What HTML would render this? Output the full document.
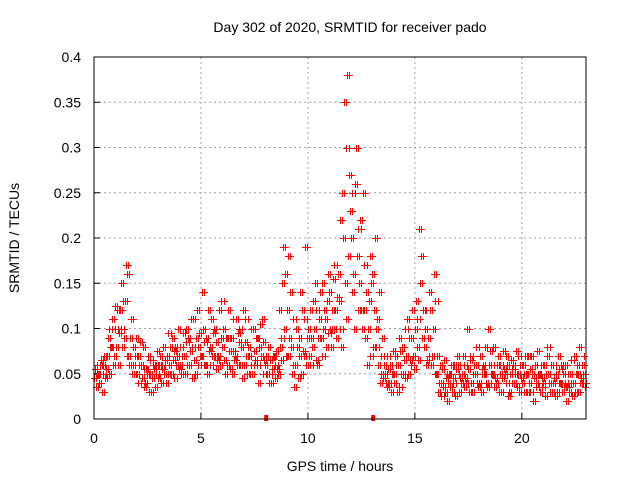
<!DOCTYPE html>
<html><head><meta charset="utf-8"><style>
html,body{margin:0;padding:0;background:#fff;}
svg{display:block;font-family:"Liberation Sans",sans-serif;}
</style></head><body>
<svg id="chart" width="640" height="480" viewBox="0 0 640 480">
<rect width="640" height="480" fill="#fff"/>
<text x="350" y="32" font-size="14" text-anchor="middle">Day 302 of 2020, SRMTID for receiver pado</text>
<text x="340" y="471" font-size="14" text-anchor="middle">GPS time / hours</text>
<text transform="translate(19,238) rotate(-90)" font-size="14" text-anchor="middle">SRMTID / TECUs</text>
<g id="grid"></g><g id="ticks"></g><g id="marks"></g>
<rect x="94" y="57" width="492" height="362" fill="none" stroke="#000" stroke-width="1"/>
</svg>
<script>
const xTicks=[0,5,10,15,20];
const yTicks=[0,0.05,0.1,0.15,0.2,0.25,0.3,0.35,0.4];
const yTickLabels=["0","0.05","0.1","0.15","0.2","0.25","0.3","0.35","0.4"];
const hours=[0,0.2,0.4,0.6,0.8,1,1.2,1.4,1.6,1.8,2,2.2,2.4,2.6,2.8,3,3.2,3.4,3.6,3.8,4,4.2,4.4,4.6,4.8,5,5.2,5.4,5.6,5.8,6,6.2,6.4,6.6,6.8,7,7.2,7.4,7.6,7.8,8,8.2,8.4,8.6,8.8,9,9.2,9.4,9.6,9.8,10,10.2,10.4,10.6,10.8,11,11.2,11.4,11.6,11.8,12,12.2,12.4,12.6,12.8,13,13.2,13.4,13.6,13.8,14,14.2,14.4,14.6,14.8,15,15.2,15.4,15.6,15.8,16,16.2,16.4,16.6,16.8,17,17.2,17.4,17.6,17.8,18,18.2,18.4,18.6,18.8,19,19.2,19.4,19.6,19.8,20,20.2,20.4,20.6,20.8,21,21.2,21.4,21.6,21.8,22,22.2,22.4,22.6,22.8];
const seriesA=[.045,.05,.06,.07,.08,.10,.12,.09,.07,.06,.05,.06,.04,.05,.055,.045,.06,.07,.05,.08,.06,.07,.09,.08,.12,.07,.06,.08,.10,.07,.08,.06,.09,.07,.10,.06,.08,.05,.09,.07,.06,.05,.07,.05,.15,.12,.08,.06,.09,.07,.10,.08,.12,.09,.11,.14,.10,.16,.25,.30,.20,.26,.15,.12,.10,.16,.08,.05,.05,.04,.05,.06,.08,.07,.09,.10,.21,.12,.09,.07,.05,.04,.03,.05,.04,.06,.05,.04,.07,.05,.04,.06,.10,.05,.04,.06,.05,.03,.06,.05,.04,.05,.03,.06,.05,.04,.08,.03,.05,.04,.06,.03,.04,.05,.06];
const seriesB=[.055,.04,.05,.09,.11,.08,.15,.13,.06,.08,.07,.045,.055,.065,.035,.06,.08,.05,.09,.06,.08,.05,.06,.11,.08,.14,.09,.06,.07,.12,.10,.09,.05,.11,.06,.085,.07,.10,.06,.11,.07,.065,.045,.12,.19,.07,.05,.10,.14,.11,.07,.13,.06,.15,.08,.10,.17,.13,.20,.38,.14,.30,.22,.17,.13,.08,.11,.07,.04,.06,.04,.09,.05,.11,.06,.13,.15,.08,.14,.10,.07,.025,.045,.035,.06,.03,.07,.10,.04,.06,.07,.05,.04,.08,.06,.03,.07,.05,.04,.07,.06,.03,.07,.04,.03,.06,.05,.04,.03,.06,.04,.05,.07,.03,.05];
const seriesC=[.035,.06,.07,.05,.06,.12,.10,.17,.09,.05,.04,.08,.05,.03,.06,.07,.05,.095,.065,.07,.05,.10,.075,.065,.06,.10,.05,.11,.085,.06,.065,.12,.075,.06,.08,.11,.05,.075,.04,.085,.05,.04,.06,.08,.10,.18,.06,.08,.05,.19,.12,.10,.09,.07,.13,.08,.12,.22,.35,.18,.25,.18,.12,.09,.18,.12,.06,.09,.035,.03,.07,.035,.065,.05,.12,.08,.18,.10,.07,.16,.03,.055,.02,.06,.025,.05,.035,.055,.03,.08,.03,.08,.06,.035,.07,.045,.04,.065,.05,.03,.03,.07,.05,.035,.06,.025,.04,.06,.07,.03,.02,.04,.03,.08,.04];
const seriesD=[.05,.065,.045,.10,.07,.06,.08,.16,.11,.07,.06,.035,.07,.045,.05,.04,.065,.06,.075,.10,.07,.085,.11,.05,.095,.06,.12,.07,.055,.09,.05,.075,.11,.095,.045,.07,.10,.065,.08,.05,.08,.055,.075,.065,.16,.09,.11,.045,.12,.06,.06,.15,.11,.10,.16,.12,.09,.10,.15,.27,.16,.12,.10,.14,.07,.20,.14,.045,.07,.05,.06,.075,.045,.09,.07,.11,.09,.06,.12,.05,.04,.035,.05,.03,.055,.045,.06,.03,.05,.04,.055,.04,.075,.06,.03,.075,.06,.04,.075,.06,.05,.04,.02,.075,.045,.05,.03,.045,.04,.05,.035,.065,.05,.04,.07];
const seriesE=[.06,.03,.055,.08,.125,.095,.13,.07,.05,.09,.085,.055,.03,.06,.075,.055,.04,.08,.045,.055,.095,.06,.045,.09,.07,.085,.075,.095,.065,.13,.09,.055,.065,.085,.12,.05,.06,.09,.105,.065,.04,.07,.055,.09,.07,.14,.035,.07,.075,.09,.09,.065,.14,.12,.095,.155,.135,.08,.11,.23,.10,.21,.25,.06,.15,.10,.04,.06,.055,.075,.03,.05,.10,.065,.055,.065,.12,.065,.06,.13,.06,.065,.04,.045,.07,.04,.045,.065,.06,.035,.05,.035,.05,.045,.05,.055,.025,.055,.035,.045,.07,.055,.045,.05,.035,.07,.06,.025,.055,.035,.05,.025,.06,.045,.035];
const allSeries=[seriesA,seriesB,seriesC,seriesD,seriesE];
const offsets=[0,0.04,0.08,0.12,0.16];
const gapMarkers=[8.05,13.05];

const NS="http://www.w3.org/2000/svg";
const X=h=>94+h*(492/23);
const Y=v=>419-v*(362/0.4);
function mk(tag,attrs,parent){const e=document.createElementNS(NS,tag);for(const k in attrs)e.setAttribute(k,attrs[k]);parent.appendChild(e);return e;}
const grid=document.getElementById('grid'),ticks=document.getElementById('ticks'),marks=document.getElementById('marks');
xTicks.forEach(t=>{
  const x=X(t);
  if(t>0){const g=mk('line',{x1:x,x2:x,y1:57,y2:419,stroke:'#a0a0a0','stroke-dasharray':'2,3'},grid);
  
  }
  const tl=mk('line',{x1:x,x2:x,y1:419,y2:413,stroke:'#000'},ticks);
  
  
  const tx=mk('text',{x:x,y:443,'font-size':14,'text-anchor':'middle'},ticks);tx.textContent=String(t);
  
  
});
yTicks.forEach((v,i)=>{
  const y=Y(v);
  if(i>0&&i<yTicks.length-1){const g=mk('line',{x1:94,x2:586,y1:y,y2:y,stroke:'#a0a0a0','stroke-dasharray':'2,3'},grid);
  
  }
  const tl=mk('line',{x1:94,x2:100,y1:y,y2:y,stroke:'#000'},ticks);
  
  
  const tx=mk('text',{x:81,y:y+5,'font-size':14,'text-anchor':'end'},ticks);tx.textContent=yTickLabels[i];
  
  
});
let d='';
[0,0.1].forEach(shift=>{
allSeries.forEach((s,k)=>{s.forEach((v,i)=>{const h=hours[i]+offsets[k]+shift;if(h>23)return;const x=Math.round(X(h)),y=Math.round(Y(v));d+=`M${x-3},${y}h7v1h-7zM${x},${y-3}h1v7h-1z`;});});
});
const p=mk('path',{d:d,fill:'#ff0000',stroke:'none','shape-rendering':'crispEdges'},marks);


gapMarkers.forEach(h=>{const r=mk('rect',{x:X(h)-2,y:415,width:4,height:6,fill:'#ff0000'},marks);

});
</script>
</body></html>
